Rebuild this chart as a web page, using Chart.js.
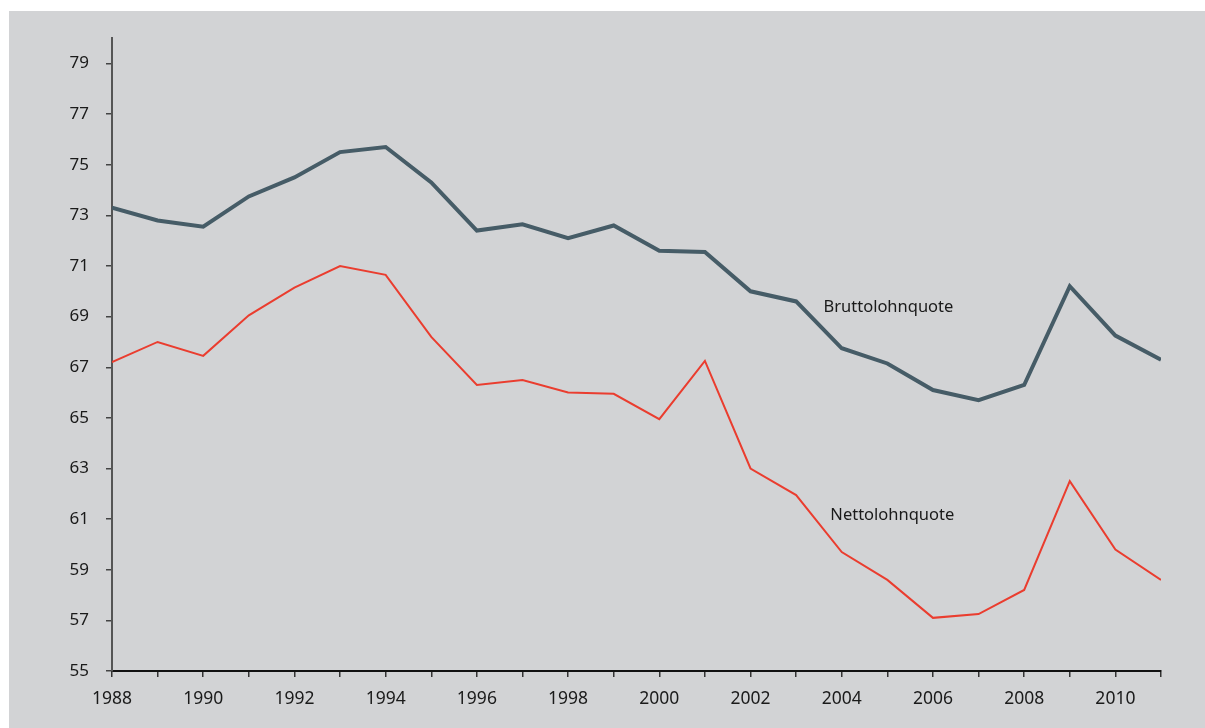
<!DOCTYPE html>
<html>
<head>
<meta charset="utf-8">
<script src="https://cdn.jsdelivr.net/npm/chart.js@4.4.1/dist/chart.umd.min.js"></script>
<style>
  body { margin: 0; background: #ffffff; }
  #wrap { position: absolute; left: 9px; top: 11px; width: 1196px; height: 717px; background: #d2d3d5; }
</style>
</head>
<body>
<div id="wrap"><canvas id="chart"></canvas></div>
<script>
// Lohnquoten 1988-2011
const years = [1988, 1989, 1990, 1991, 1992, 1993, 1994, 1995, 1996, 1997, 1998, 1999,
  2000, 2001, 2002, 2003, 2004, 2005, 2006, 2007, 2008, 2009, 2010, 2011];
const brutto = [73.3, 72.8, 72.55, 73.75, 74.5, 75.5, 75.7, 74.3, 72.4, 72.65, 72.1, 72.6,
  71.6, 71.55, 70.0, 69.6, 67.75, 67.15, 66.1, 65.7, 66.3, 70.2, 68.25, 67.3];
const netto = [67.2, 68.0, 67.45, 69.05, 70.15, 71.0, 70.65, 68.2, 66.3, 66.5, 66.0, 65.95,
  64.95, 67.25, 63.0, 61.95, 59.7, 58.6, 57.1, 57.25, 58.2, 62.5, 59.8, 58.6];
const yTicks = [55, 57, 59, 61, 63, 65, 67, 69, 71, 73, 75, 77, 79];
const seriesLabels = [
  { text: 'Bruttolohnquote', x: 2003.6, y: 69.35 },
  { text: 'Nettolohnquote', x: 2003.75, y: 61.15 }
];

const fontFamily = '"Noto Sans", "Open Sans", sans-serif';
const textColor = '#1a1a1a';

// draw the two series names next to the lines
const seriesLabelPlugin = {
  id: 'seriesLabels',
  afterDatasetsDraw(chart) {
    const { ctx, scales } = chart;
    ctx.save();
    ctx.font = '16.5px ' + fontFamily;
    ctx.fillStyle = textColor;
    ctx.textAlign = 'left';
    ctx.textBaseline = 'middle';
    seriesLabels.forEach(label => {
      ctx.fillText(label.text, scales.x.getPixelForValue(label.x), scales.y.getPixelForValue(label.y));
    });
    ctx.restore();
  }
};

new Chart(document.getElementById('chart'), {
  type: 'line',
  data: {
    datasets: [
      {
        label: 'Bruttolohnquote',
        data: years.map((year, i) => ({ x: year, y: brutto[i] })),
        borderColor: '#465c67',
        borderWidth: 4,
        pointRadius: 0,
        tension: 0
      },
      {
        label: 'Nettolohnquote',
        data: years.map((year, i) => ({ x: year, y: netto[i] })),
        borderColor: '#ea3d2f',
        borderWidth: 2,
        pointRadius: 0,
        tension: 0
      }
    ]
  },
  options: {
    responsive: true,
    maintainAspectRatio: false,
    animation: false,
    layout: { padding: { left: 0, right: 44, top: 22, bottom: 0 } },
    plugins: { legend: { display: false }, tooltip: { enabled: false } },
    scales: {
      x: {
        type: 'linear',
        min: 1988,
        max: 2011,
        afterFit: scale => { scale.height = 57; },
        border: { display: true, color: '#111111', width: 2 },
        grid: { drawOnChartArea: false, drawTicks: true, tickLength: 6, color: '#333333', lineWidth: 1.5 },
        ticks: {
          stepSize: 1,
          autoSkip: false,
          maxRotation: 0,
          padding: 12,
          color: textColor,
          font: { family: fontFamily, size: 17.5 },
          callback: value => (value % 2 === 0 ? String(value) : '')
        }
      },
      y: {
        min: 55,
        max: 80,
        afterFit: scale => { scale.width = 103; },
        afterBuildTicks: scale => { scale.ticks = yTicks.map(value => ({ value })); },
        border: { display: true, color: '#555555', width: 2 },
        grid: { drawOnChartArea: false, drawTicks: true, tickLength: 6, color: '#444444', lineWidth: 1.5 },
        ticks: {
          padding: 17,
          color: textColor,
          font: { family: fontFamily, size: 17 }
        }
      }
    }
  },
  plugins: [seriesLabelPlugin]
});
</script>
</body>
</html>
